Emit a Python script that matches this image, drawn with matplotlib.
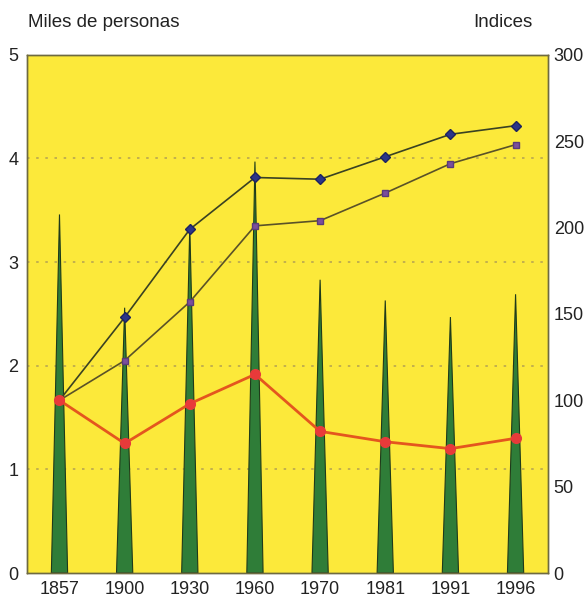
import matplotlib

matplotlib.use("Agg")
import matplotlib.pyplot as plt

plt.rcParams["font.family"] = ["Liberation Sans", "DejaVu Sans"]

years = ["1857", "1900", "1930", "1960", "1970", "1981", "1991", "1996"]
# green spikes, left axis (miles de personas)
personas = [3.46, 2.56, 3.35, 3.97, 2.83, 2.63, 2.47, 2.69]
# index series, right axis
indice_azul = [100, 148, 199, 229, 228, 241, 254, 259]
indice_morado = [100, 123, 157, 201, 204, 220, 237, 248]
indice_rojo = [100, 75, 98, 115, 82, 76, 72, 78]

yellow = "#fce93a"
green = "#2f7d38"

fig = plt.figure(figsize=(5.85, 5.99), dpi=100)
ax = fig.add_axes([0.046, 0.0434, 0.891, 0.865])
ax.set_facecolor(yellow)

x = list(range(len(years)))
half = 0.125
for xi, h in zip(x, personas):
    ax.fill([xi - half, xi, xi + half], [0, h, 0], color=green,
            edgecolor="#1f3a1a", linewidth=0.8, zorder=2)

ax.set_xlim(-0.5, len(years) - 0.5)
ax.set_ylim(0, 5)
ax.set_yticks([0, 1, 2, 3, 4, 5])
ax.set_xticks(x)
ax.set_xticklabels(years)
for yv in [1, 2, 3, 4]:
    ax.axhline(yv, color="#b8a650", linestyle=(0, (1.5, 4)), linewidth=1.2, zorder=1)

ax2 = ax.twinx()
ax2.set_ylim(0, 300)
ax2.set_yticks([0, 50, 100, 150, 200, 250, 300])
ax2.plot(x, indice_azul, color="#3a4222", linewidth=1.2, marker="D",
         markersize=5.5, markerfacecolor="#2b3588", markeredgecolor="#1d2260", zorder=4)
ax2.plot(x, indice_morado, color="#5a5228", linewidth=1.2, marker="s",
         markersize=5, markerfacecolor="#7b4f9c", markeredgecolor="#5a3a7a", zorder=4)
ax2.plot(x, indice_rojo, color="#e4561e", linewidth=2.0, marker="o",
         markersize=7, markerfacecolor="#e83a3a", markeredgecolor="#e83a3a", zorder=5)

for a in (ax, ax2):
    for s in a.spines.values():
        s.set_color("#6e6a40")
        s.set_linewidth(1.0)
    a.tick_params(length=0, labelsize=13, colors="#222222")
ax.tick_params(axis="y", pad=6)
ax.tick_params(axis="x", pad=6)
ax2.tick_params(axis="y", pad=4)

fig.text(0.048, 0.963, "Miles de personas", fontsize=13.5, color="#222222",
         ha="left", va="center")
fig.text(0.91, 0.963, "Indices", fontsize=13.5, color="#222222",
         ha="right", va="center")

fig.savefig("out.png", dpi=100)
